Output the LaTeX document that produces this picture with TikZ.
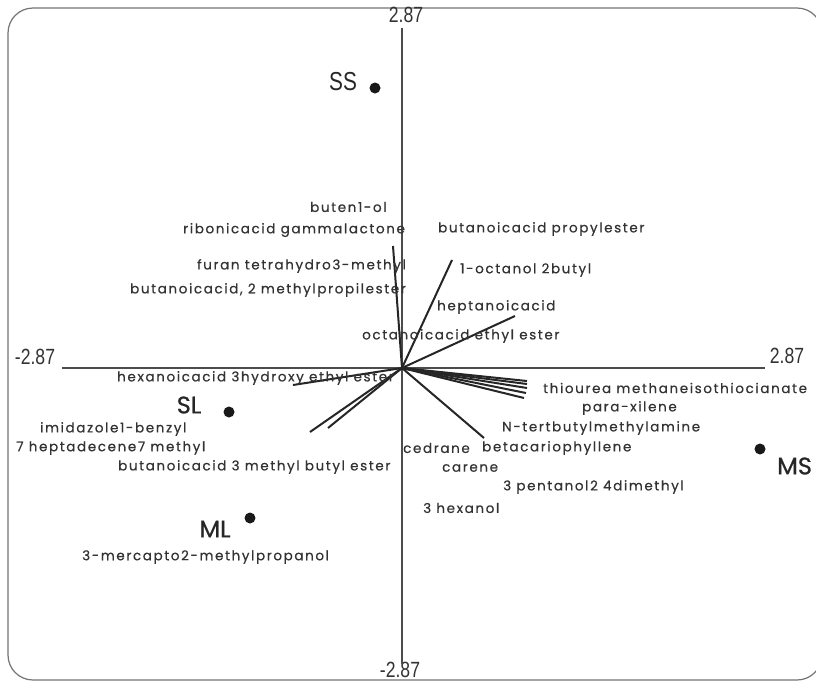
\documentclass[tikz,border=0pt]{standalone}
\usepackage{fontspec}
\setmainfont{Poppins}
\newfontfamily\varfont[LetterSpace=12,FakeBold=0.5]{Poppins}
\newfontfamily\groupfont[FakeBold=0.8]{Poppins}
\newfontfamily\axisfont[FakeStretch=0.8]{Liberation Sans}

\begin{document}
\begin{tikzpicture}[x=1pt, y=-1pt,
	var/.style={font=\varfont\fontsize{13.5}{14}\selectfont, inner sep=0pt, anchor=west, text=black!80},
	dot/.style={circle, fill=black!90, inner sep=0pt, minimum size=11pt},
	group/.style={font=\groupfont\fontsize{24}{24}\selectfont, inner sep=0pt, text=black!85},
	axis label/.style={font=\axisfont\fontsize{22}{22}\selectfont, inner sep=0pt, text=black!80},
	vec/.style={line width=2pt, black!85}]

	\useasboundingbox (0,0) rectangle (816,683);
	\draw[black!55, line width=1.2pt, rounded corners=25pt] (8,8) rectangle (822,680);

	% axes
	\coordinate (o) at (402,368);
	\coordinate (top) at (402,28);
	\coordinate (bot) at (402,664);
	\coordinate (lft) at (62,368);
	\coordinate (rgt) at (765,368);
	\node[axis label] (ymax) at (406,15) {2.87};
	\node[axis label] (ymin) at (400,670) {-2.87};
	\node[axis label] (xmin) at (35,357) {-2.87};
	\node[axis label] (xmax) at (787,356) {2.87};
	\draw[line width=1.8pt, black!70] (lft) -- (rgt);
	\draw[line width=1.8pt, black!70] (top) -- (bot);

	% samples
	\node[dot] (ss) at (375,88) {};
	\node[dot] (sl) at (229,412) {};
	\node[dot] (ml) at (250,518) {};
	\node[dot] (ms) at (760,449) {};
	\node[group, font=\axisfont\fontsize{26}{26}\selectfont] (sslab) at (343,82) {SS};
	\node[group] (sllab) at (189,405) {SL};
	\node[group] (mllab) at (215,529) {ML};
	\node[group, anchor=west] (mslab) at (777,466) {MS};

	% loadings
	\coordinate (v1) at (393,246);
	\coordinate (v2) at (452,260);
	\coordinate (v3) at (515,316);
	\coordinate (v4) at (527,381);
	\coordinate (v5) at (527,384);
	\coordinate (v6) at (527,388);
	\coordinate (v7) at (526,393);
	\coordinate (v8) at (524,398);
	\coordinate (v9) at (484,438);
	\coordinate (v10) at (310,432);
	\coordinate (v11) at (328,428);
	\coordinate (v12) at (293,385);
	\foreach \v in {v1,v2,v3,v4,v5,v6,v7,v8,v9,v10,v11,v12}
		\draw[vec] (o) -- (\v);

	% variable names
	\node[var] (n1) at (310,207) {buten1-ol};
	\node[var] (n2) at (183,230) {ribonicacid gammalactone};
	\node[var] (n3) at (197,266) {furan tetrahydro3-methyl};
	\node[var] (n4) at (130,290) {butanoicacid, 2 methylpropilester};
	\node[var] (n5) at (438,229) {butanoicacid propylester};
	\node[var] (n6) at (460,270) {1-octanol 2butyl};
	\node[var] (n7) at (437,307) {heptanoicacid};
	\node[var] (n8) at (362,336) {octanoicacid ethyl ester};
	\node[var] (n9) at (117,378) {hexanoicacid 3hydroxy ethyl ester};
	\node[var] (n10) at (40,429) {imidazole1-benzyl};
	\node[var] (n11) at (16,448) {7 heptadecene7 methyl};
	\node[var] (n12) at (118,467) {butanoicacid 3 methyl butyl ester};
	\node[var] (n13) at (543,388) {thiourea methaneisothiocianate};
	\node[var] (n14) at (582,408) {para-xilene};
	\node[var] (n15) at (502,428) {N-tertbutylmethylamine};
	\node[var] (n16) at (403,448) {cedrane};
	\node[var] (n17) at (482,448) {betacariophyllene};
	\node[var] (n18) at (442,468) {carene};
	\node[var] (n19) at (503,487) {3 pentanol2 4dimethyl};
	\node[var] (n20) at (423,508) {3 hexanol};
	\node[var] (n21) at (82,557) {3-mercapto2-methylpropanol};

\end{tikzpicture}
\end{document}
